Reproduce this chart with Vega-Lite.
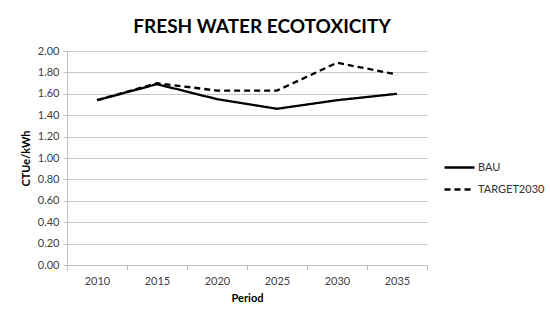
{
  "$schema": "https://vega.github.io/schema/vega-lite/v6.json",
  "width": 360,
  "height": 214,
  "autosize": {"type": "none"},
  "padding": {"left": 67, "top": 51, "right": 123, "bottom": 56},
  "background": "white",
  "title": {
    "text": "FRESH WATER ECOTOXICITY",
    "font": "Lato",
    "fontSize": 19,
    "fontWeight": "bold",
    "color": "#000000",
    "anchor": "middle",
    "dx": 15,
    "offset": 13,
    "baseline": "middle",
    "dy": 14
  },
  "data": {
    "values": [
      {"Period": "2010", "Series": "BAU", "Value": 1.54},
      {"Period": "2015", "Series": "BAU", "Value": 1.69},
      {"Period": "2020", "Series": "BAU", "Value": 1.55},
      {"Period": "2025", "Series": "BAU", "Value": 1.46},
      {"Period": "2030", "Series": "BAU", "Value": 1.54},
      {"Period": "2035", "Series": "BAU", "Value": 1.60},
      {"Period": "2010", "Series": "TARGET2030", "Value": 1.54},
      {"Period": "2015", "Series": "TARGET2030", "Value": 1.70},
      {"Period": "2020", "Series": "TARGET2030", "Value": 1.63},
      {"Period": "2025", "Series": "TARGET2030", "Value": 1.63},
      {"Period": "2030", "Series": "TARGET2030", "Value": 1.89},
      {"Period": "2035", "Series": "TARGET2030", "Value": 1.78}
    ]
  },
  "mark": {"type": "line", "strokeWidth": 2.3, "color": "#000000"},
  "encoding": {
    "x": {
      "field": "Period",
      "type": "ordinal",
      "scale": {"type": "band", "paddingInner": 0, "paddingOuter": 0},
      "axis": {
        "title": "Period",
        "labelAngle": 0,
        "tickBand": "extent",
        "grid": false,
        "domainColor": "#bfbfbf",
        "tickColor": "#bfbfbf",
        "tickSize": 5,
        "labelPadding": 5,
        "titlePadding": 6
      }
    },
    "y": {
      "field": "Value",
      "type": "quantitative",
      "scale": {"domain": [0, 2]},
      "axis": {
        "title": "CTUe/kWh",
        "values": [0, 0.2, 0.4, 0.6, 0.8, 1.0, 1.2, 1.4, 1.6, 1.8, 2.0],
        "format": ".2f",
        "grid": true,
        "gridColor": "#c8c8c8",
        "domainColor": "#bfbfbf",
        "tickColor": "#bfbfbf",
        "tickSize": 4,
        "labelPadding": 4,
        "titlePadding": 6
      }
    },
    "strokeDash": {
      "field": "Series",
      "type": "nominal",
      "scale": {"domain": ["BAU", "TARGET2030"], "range": [[1, 0], [6, 4]]},
      "legend": {
        "title": null,
        "orient": "none",
        "legendX": 376,
        "legendY": 100,
        "symbolType": "stroke",
        "symbolSize": 900,
        "symbolStrokeWidth": 2.3,
        "symbolStrokeColor": "#000000",
        "labelFontSize": 11,
        "labelFont": "Lato",
        "labelColor": "#333333",
        "rowPadding": -9,
        "labelOffset": 2
      }
    }
  },
  "config": {
    "view": {"stroke": null},
    "axis": {
      "labelFont": "Lato",
      "labelFontSize": 11,
      "labelColor": "#404040",
      "titleFont": "Lato",
      "titleFontSize": 11,
      "titleFontWeight": "bold",
      "titleColor": "#000000"
    }
  }
}
